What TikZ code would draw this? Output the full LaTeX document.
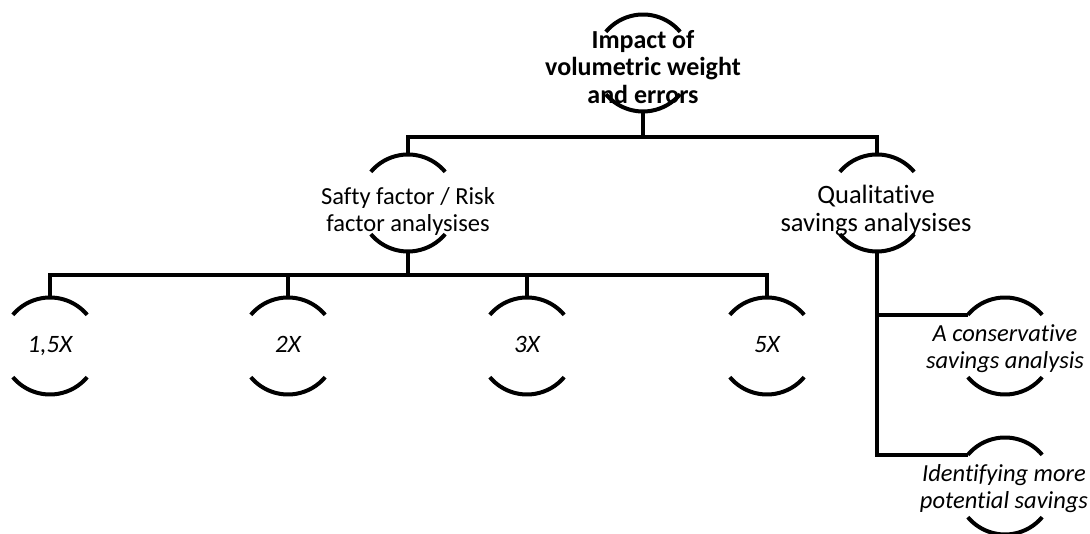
\documentclass[tikz,border=0pt]{standalone}
\usepackage{fontspec}
\setmainfont[Ligatures={NoCommon}]{Carlito}
\begin{document}
\begin{tikzpicture}[x=1pt,y=1pt,
  ring/.style={circle, minimum size=97pt, inner sep=0pt, outer sep=0pt},
  arcline/.style={line width=4pt},
  link/.style={line width=4pt},
  rootlbl/.style={align=center, inner sep=0pt, font=\fontsize{26}{27.5}\selectfont\bfseries},
  midlbl/.style={align=center, inner sep=0pt, font=\fontsize{24.5}{27}\selectfont},
  qlbl/.style={align=center, inner sep=0pt, font=\fontsize{26.5}{28}\selectfont},
  leaflbl/.style={align=center, inner sep=0pt, font=\fontsize{24.5}{27}\selectfont\itshape},
  xlbl/.style={anchor=base, inner sep=0pt, font=\fontsize{25}{26}\selectfont\itshape}
]
\useasboundingbox (0,0) rectangle (1090,534);

% ring frames (invisible circles; the arcs are drawn below)
\node[ring] (root)  at (643,471) {};
\node[ring] (safty) at (408,331) {};
\node[ring] (qual)  at (877,331) {};
\node[ring] (k1)    at (50,188)  {};
\node[ring] (k2)    at (288,188) {};
\node[ring] (k3)    at (527,188) {};
\node[ring] (k4)    at (767,188) {};
\node[ring] (cons)  at (1005,188) {};
\node[ring] (iden)  at (1005,48) {};

% upper and lower arcs of every ring
\foreach \n in {root,safty,qual,k1,k2,k3,k4,cons,iden}{
  \draw[arcline] (\n.40) arc[start angle=40, end angle=140, radius=48.5pt];
  \draw[arcline] (\n.220) arc[start angle=220, end angle=320, radius=48.5pt];
}

% labels
\node[rootlbl] (rootT)  at (643,467) {Impact of\\volumetric weight\\and errors};
\node[midlbl]  (saftyT) at (408,323) {Safty factor / Risk\\factor analysises};
\node[qlbl]    (qualT)  at (876,323.5) {Qualitative\\savings analysises};
\node[xlbl] (k1T) at ([yshift=-7pt]k1.center) {1,5X};
\node[xlbl] (k2T) at ([yshift=-7pt]k2.center) {2X};
\node[xlbl] (k3T) at ([yshift=-7pt]k3.center) {3X};
\node[xlbl] (k4T) at ([yshift=-7pt]k4.center) {5X};
\node[leaflbl] (consT) at (1005,185) {A conservative\\savings analysis};
\node[leaflbl] (idenT) at (1004,45)  {Identifying more\\potential savings};

% first level connectors
\coordinate (j1) at (643,397);
\draw[link] (root.south) -- (j1);
\draw[link] (safty.north) -- (safty.north |- j1) -- (qual.north |- j1) -- (qual.north);

% second level connectors
\coordinate (j2) at (408,259);
\draw[link] (safty.south) -- (j2);
\draw[link] (k1.north) -- (k1.north |- j2) -- (k4.north |- j2) -- (k4.north);
\draw[link] (k2.north) -- (k2.north |- j2);
\draw[link] (k3.north) -- (k3.north |- j2);

% right-hand branch
\draw[link] (qual.south) -- (qual.south |- iden.140) -- (iden.140);
\draw[link] (qual.south |- cons.140) -- (cons.140);
\end{tikzpicture}
\end{document}
